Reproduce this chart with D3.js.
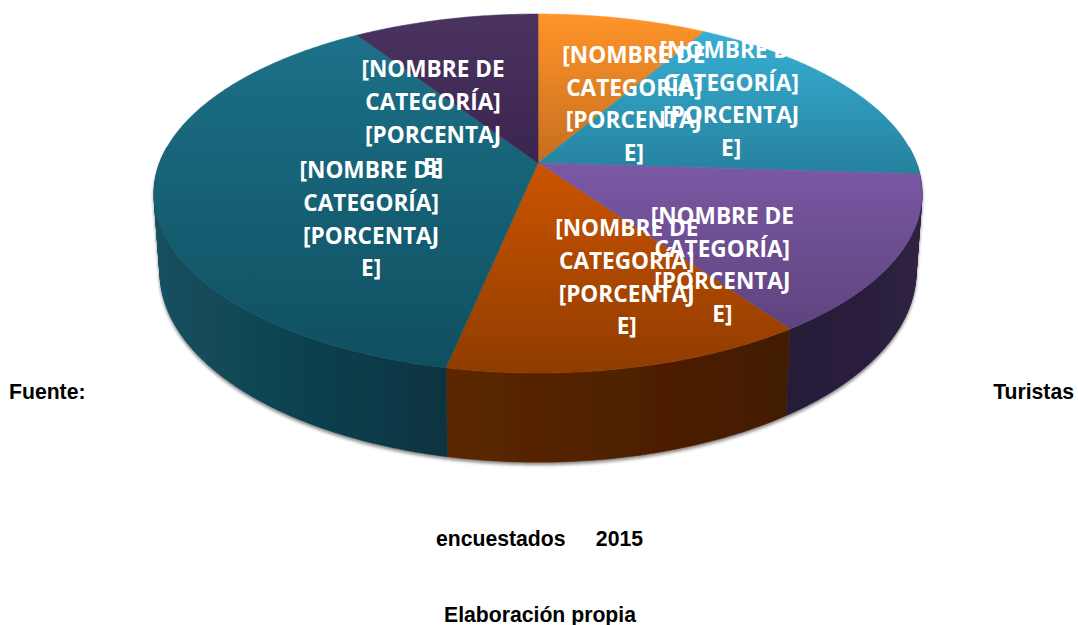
<!DOCTYPE html>
<html>
<head>
<meta charset="utf-8">
<script src="https://cdn.jsdelivr.net/npm/d3@7"></script>
<style>
  html, body { margin: 0; background: #fff; }
  svg { display: block; }
  .label { font: 700 22.6px "Open Sans", sans-serif; fill: #fff; text-anchor: middle; }
  .note { font: bold 21.2px "Liberation Sans", Arial, sans-serif; fill: #000; }
</style>
</head>
<body>
<svg class="chart" width="1078" height="625"></svg>
<script>
// shares, clockwise from 12 o'clock
const categories = ['a', 'b', 'c', 'd', 'e', 'f']
const shares = [8.4, 17.6, 14.3, 12.95, 37.55, 9.2]
const labelLines = ['[NOMBRE DE', 'CATEGORÍA]', '[PORCENTAJ', 'E]']

const lightTop = ['#ff9429', '#38afd3', '#7b58a5', '#cb5400', '#1c7189', '#4b3361']
const darkTop = ['#c56e1f', '#25819d', '#5f437f', '#903c00', '#0f4f60', '#3a254e']
const wallLeft = ['#8a4e12', '#1b5d70', '#261c38', '#5c2700', '#14505f', '#2c1e3a']
const wallRight = ['#8a4e12', '#1b5d70', '#2e2140', '#421a00', '#0b3340', '#2c1e3a']

// nudge from the point 60% along each slice's middle radius
const labelNudge = [[42, 33], [2, -17], [-24, 48], [38, 0.5], [60.5, 36.5], [-46, 46.5]]
const lineStep = 32.7

// perspective disc: top face and the smaller-looking bottom face
const topFace = { cx: 538, cy: 163, a: 378.4, b: 174.3 }
const bottomFace = { cx: 538, cy: 240, a: 372.5, b: 184.5 }
const tilt = 0.17

// only this part of the rim faces the viewer
const wallFrom = Math.PI * 0.47
const wallTo = Math.PI * 1.53

const project = (face, angle, r = 1) => {
  const u = r * Math.sin(angle)
  const v = -r * Math.cos(angle)
  const s = 1 / (1 - tilt * v)
  return [face.cx + face.a * u * s, face.cy + face.b * v * s]
}

const sampleAngles = (start, end) => {
  const n = Math.max(2, Math.ceil((end - start) / 0.01))
  return d3.range(n + 1).map(i => start + (end - start) * i / n)
}

const arcPoints = (face, start, end) => sampleAngles(start, end).map(a => project(face, a))

const line = d3.line()
const slices = d3.pie().sort(null).value(d => d)(shares)

const chart = d3.select('.chart')
const defs = chart.append('defs')

const shadow = defs.append('filter').attr('id', 'wallShadow')
  .attr('x', '-5%').attr('y', '-5%').attr('width', '110%').attr('height', '115%')
shadow.append('feDropShadow')
  .attr('dx', 0).attr('dy', 2.5).attr('stdDeviation', 1.8)
  .attr('flood-color', '#000').attr('flood-opacity', 0.45)

// wall as strips with one winding, so the fold at the sides stays filled
const wallPath = (start, end) => {
  const angles = sampleAngles(start, end)
  return d3.pairs(angles).map(([a0, a1]) => {
    const quad = [project(topFace, a0), project(topFace, a1), project(bottomFace, a1), project(bottomFace, a0)]
    if (d3.polygonArea(quad) < 0) quad.reverse()
    return `${line(quad)}Z`
  }).join('')
}

const walls = chart.append('g').attr('filter', 'url(#wallShadow)')
slices.forEach((d, i) => {
  const start = Math.max(d.startAngle, wallFrom)
  const end = Math.min(d.endAngle, wallTo)
  if (end <= start) return
  const pts = arcPoints(topFace, start, end).concat(arcPoints(bottomFace, start, end))
  const xs = d3.extent(pts, p => p[0])
  const grad = defs.append('linearGradient').attr('id', `wall${i}`)
    .attr('gradientUnits', 'userSpaceOnUse')
    .attr('x1', xs[0]).attr('x2', xs[1]).attr('y1', 0).attr('y2', 0)
  grad.append('stop').attr('offset', 0).attr('stop-color', wallLeft[i])
  grad.append('stop').attr('offset', 1).attr('stop-color', wallRight[i])
  walls.append('path')
    .attr('d', wallPath(start, end))
    .attr('fill', `url(#wall${i})`)
    .attr('stroke', `url(#wall${i})`)
    .attr('stroke-width', 0.5)
})

// top face
chart.append('g').selectAll('path')
  .data(slices)
  .enter()
  .append('path')
  .attr('d', (d, i) => {
    const pts = [[topFace.cx, topFace.cy]].concat(arcPoints(topFace, d.startAngle, d.endAngle))
    const ys = d3.extent(pts, p => p[1])
    const grad = defs.append('linearGradient').attr('id', `top${i}`)
      .attr('gradientUnits', 'userSpaceOnUse')
      .attr('x1', 0).attr('x2', 0).attr('y1', ys[0]).attr('y2', ys[1])
    grad.append('stop').attr('offset', 0).attr('stop-color', lightTop[i])
    grad.append('stop').attr('offset', 1).attr('stop-color', darkTop[i])
    return `${line(pts)}Z`
  })
  .attr('fill', (d, i) => `url(#top${i})`)
  .attr('stroke', (d, i) => `url(#top${i})`)
  .attr('stroke-width', 0.6)

// labels
const labels = chart.append('g').selectAll('text')
  .data(slices)
  .enter()
  .append('text')
  .attr('class', 'label')
  .attr('transform', (d, i) => {
    const p = project(topFace, (d.startAngle + d.endAngle) / 2, 0.6)
    return `translate(${p[0] + labelNudge[i][0]},${p[1] + labelNudge[i][1]})`
  })

labels.selectAll('tspan')
  .data(labelLines)
  .enter()
  .append('tspan')
  .attr('x', 0)
  .attr('y', (d, i) => (i - 1.5) * lineStep + 8)
  .text(d => d)

// source notes
const notes = [
  { text: 'Fuente:', x: 9, y: 399, anchor: 'start' },
  { text: 'Turistas', x: 1074, y: 399, anchor: 'end' },
  { text: 'encuestados', x: 436, y: 546, anchor: 'start' },
  { text: '2015', x: 643, y: 546, anchor: 'end' },
  { text: 'Elaboración propia', x: 540, y: 622, anchor: 'middle' },
]

chart.append('g').selectAll('text')
  .data(notes)
  .enter()
  .append('text')
  .attr('class', 'note')
  .attr('x', d => d.x)
  .attr('y', d => d.y)
  .attr('text-anchor', d => d.anchor)
  .text(d => d.text)
</script>
</body>
</html>
